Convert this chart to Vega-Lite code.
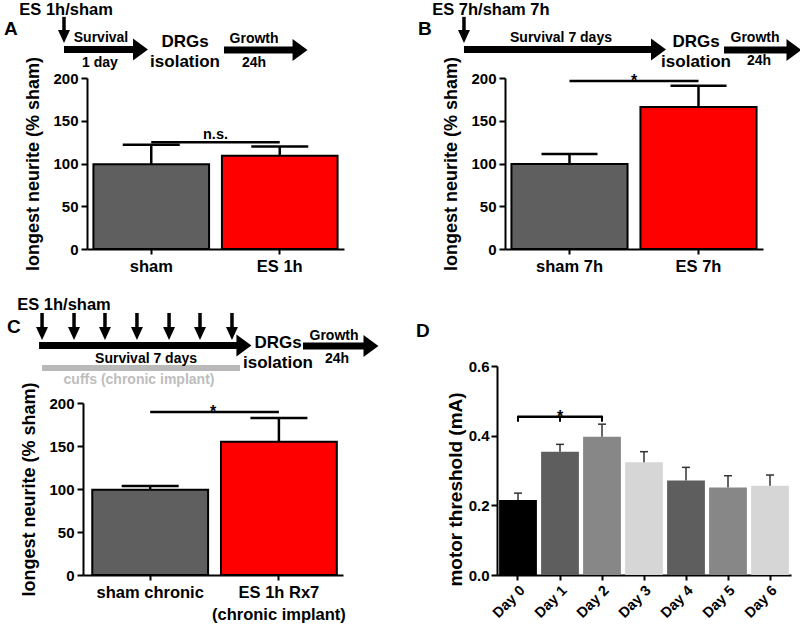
{
  "$schema": "https://vega.github.io/schema/vega-lite/v6.json",
  "padding": {"left": 3, "top": 0, "right": 0, "bottom": 0},
  "columns": 2,
  "bounds": "flush",
  "spacing": {"row": 47, "column": 153},
  "resolve": {"scale": {"color": "independent"}},
  "config": {
    "view": {"stroke": null},
    "text": {"font": "Liberation Sans", "fontWeight": "bold", "baseline": "alphabetic", "align": "center", "color": "#000"},
    "axis": {"domainColor": "#000", "tickColor": "#000", "domainWidth": 2, "tickWidth": 2, "labelFont": "Liberation Sans", "labelFontWeight": "bold", "titleFont": "Liberation Sans", "titleFontWeight": "bold", "labelColor": "#000", "titleColor": "#000", "grid": false}
  },
  "datasets": {
    "barsA": [{"group": "sham", "mean": 99, "err": 122}, {"group": "ES 1h", "mean": 109, "err": 120}],
    "sigA": [{"from": "sham", "to": "ES 1h", "y": 125, "mid": 1.0, "label": "n.s."}],
    "textA": [
      {"text": "A", "kind": "panel", "x": -0.646, "y": 250.3},
      {"text": "ES 1h/sham", "kind": "treatment", "x": -0.163, "y": 273.7},
      {"text": "Survival", "kind": "step", "x": 0.109, "y": 242.1},
      {"text": "1 day", "kind": "step", "x": 0.101, "y": 213.0},
      {"text": "DRGs", "kind": "stage", "x": 0.763, "y": 236.3},
      {"text": "isolation", "kind": "stage", "x": 0.763, "y": 213.0},
      {"text": "Growth", "kind": "step", "x": 1.300, "y": 240.9},
      {"text": "24h", "kind": "step", "x": 1.300, "y": 213.0}
    ],
    "arrowA": [{"x": -0.179, "x2": 0.416, "y": 233.3}, {"x": 1.066, "x2": 1.658, "y": 232.7}],
    "dropA": [{"x": -0.179, "y": 271.5, "y2": 248.5}],
    "barsB": [{"group": "sham 7h", "mean": 99.5, "err": 111}, {"group": "ES 7h", "mean": 166, "err": 191}],
    "sigB": [{"from": "sham 7h", "to": "ES 7h", "y": 196.5, "mid": 1.0, "label": "*"}],
    "textB": [
      {"text": "B", "kind": "panel", "x": -0.674, "y": 250.3},
      {"text": "ES 7h/sham 7h", "kind": "treatment", "x": -0.109, "y": 273.7},
      {"text": "Survival 7 days", "kind": "step", "x": 0.434, "y": 242.1},
      {"text": "DRGs", "kind": "stage", "x": 1.481, "y": 236.3},
      {"text": "isolation", "kind": "stage", "x": 1.481, "y": 213.0},
      {"text": "Growth", "kind": "step", "x": 1.938, "y": 242.1},
      {"text": "24h", "kind": "step", "x": 1.969, "y": 215.2}
    ],
    "arrowB": [{"x": -0.318, "x2": 1.190, "y": 233.3}, {"x": 1.698, "x2": 2.240, "y": 232.7}],
    "dropB": [{"x": -0.318, "y": 271.5, "y2": 248.5}],
    "barsC": [{"group": "sham chronic", "mean": 99, "err": 103.5}, {"group": "ES 1h Rx7 (chronic implant)", "mean": 155, "err": 182.5}],
    "sigC": [{"from": "sham chronic", "to": "ES 1h Rx7 (chronic implant)", "y": 189.5, "mid": 1.0, "label": "*"}],
    "textC": [
      {"text": "C", "kind": "panel", "x": -0.585, "y": 281.4},
      {"text": "ES 1h/sham", "kind": "treatment", "x": -0.146, "y": 308.1},
      {"text": "Survival 7 days", "kind": "step", "x": 0.485, "y": 246.5},
      {"text": "cuffs (chronic implant)", "kind": "implant", "x": 0.431, "y": 222.1},
      {"text": "DRGs", "kind": "stage", "x": 1.5, "y": 264.0},
      {"text": "isolation", "kind": "stage", "x": 1.5, "y": 240.7},
      {"text": "Growth", "kind": "step", "x": 1.931, "y": 273.3},
      {"text": "24h", "kind": "step", "x": 1.954, "y": 246.5}
    ],
    "arrowC": [{"x": -0.338, "x2": 1.238, "y": 266.9}, {"x": 1.692, "x2": 2.215, "y": 266.3}],
    "dropC": [
      {"x": -0.315, "y": 304.7, "y2": 280.8},
      {"x": -0.069, "y": 304.7, "y2": 280.8},
      {"x": 0.169, "y": 304.7, "y2": 280.8},
      {"x": 0.415, "y": 304.7, "y2": 280.8},
      {"x": 0.662, "y": 304.7, "y2": 280.8},
      {"x": 0.900, "y": 304.7, "y2": 280.8},
      {"x": 1.146, "y": 304.7, "y2": 280.8}
    ],
    "cuffC": [{"x": -0.315, "x2": 1.208, "y": 240.7}],
    "barsD": [
      {"day": "Day 0", "mean": 0.215, "err": 0.235},
      {"day": "Day 1", "mean": 0.354, "err": 0.375},
      {"day": "Day 2", "mean": 0.397, "err": 0.433},
      {"day": "Day 3", "mean": 0.324, "err": 0.354},
      {"day": "Day 4", "mean": 0.271, "err": 0.309},
      {"day": "Day 5", "mean": 0.251, "err": 0.285},
      {"day": "Day 6", "mean": 0.256, "err": 0.287}
    ],
    "sigD": [{"from": "Day 0", "to": "Day 2", "over": "Day 1", "y": 0.454, "label": "*"}],
    "sigTicksD": [{"day": "Day 0", "y": 0.454}, {"day": "Day 1", "y": 0.454}, {"day": "Day 2", "y": 0.454}],
    "textD": [{"text": "D", "kind": "panel", "x": -1.929, "y": 0.683}]
  },
  "concat": [
    {
      "width": 261, "height": 249,
      "resolve": {"scale": {"x": "independent"}},
      "layer": [
        {"layer": [
          {"data": {"name": "barsA"}, "mark": {"type": "bar", "stroke": "#000", "strokeWidth": 2},
           "encoding": {
             "x": {"field": "group", "type": "nominal", "sort": null, "scale": {"domain": ["sham", "ES 1h"], "range": [4, 261], "paddingInner": 0.1, "paddingOuter": 0.05}, "axis": {"title": null, "labelAngle": 0, "labelFontSize": 16.5, "tickSize": 5, "labelPadding": 4}},
             "y": {"field": "mean", "type": "quantitative", "scale": {"domain": [0, 200], "range": [249, 78], "nice": false, "zero": false}, "axis": {"values": [0, 50, 100, 150, 200], "title": "longest neurite (% sham)", "offset": -4, "tickSize": 6, "labelPadding": 3, "labelFontSize": 15, "titleFontSize": 18, "titlePadding": 10}},
             "y2": {"datum": 0},
             "color": {"field": "group", "type": "nominal", "scale": {"domain": ["sham", "ES 1h"], "range": ["#5f5f5f", "#ff0000"]}, "legend": null}}},
          {"data": {"name": "barsA"}, "mark": {"type": "rule", "strokeWidth": 2.5, "color": "#000"},
           "encoding": {"x": {"field": "group", "type": "nominal"}, "y": {"field": "mean", "type": "quantitative"}, "y2": {"field": "err"}}},
          {"data": {"name": "barsA"}, "mark": {"type": "tick", "orient": "horizontal", "size": 57, "thickness": 2.5, "color": "#000", "opacity": 1},
           "encoding": {"x": {"field": "group", "type": "nominal"}, "y": {"field": "err", "type": "quantitative"}}},
          {"data": {"name": "sigA"}, "mark": {"type": "rule", "strokeWidth": 2.5, "color": "#000"},
           "encoding": {"x": {"field": "from", "type": "nominal"}, "x2": {"field": "to"}, "y": {"field": "y", "type": "quantitative"}}}
        ]},
        {"layer": [
          {"data": {"name": "arrowA"}, "mark": {"type": "rule", "strokeWidth": 7, "color": "#000", "strokeCap": "butt"},
           "encoding": {"x": {"field": "x", "type": "quantitative", "scale": {"domain": [0, 2], "range": [4, 261], "nice": false, "zero": false}, "axis": null}, "x2": {"field": "x2"}, "y": {"field": "y", "type": "quantitative"}}},
          {"data": {"name": "arrowA"}, "mark": {"type": "point", "shape": "M-0.68,-1L0.68,0L-0.68,1Z", "size": 484, "filled": true, "color": "#000", "opacity": 1, "strokeWidth": 0},
           "encoding": {"x": {"field": "x2", "type": "quantitative", "axis": null}, "y": {"field": "y", "type": "quantitative"}}},
          {"data": {"name": "dropA"}, "mark": {"type": "rule", "strokeWidth": 3.5, "color": "#000"},
           "encoding": {"x": {"field": "x", "type": "quantitative", "axis": null}, "y": {"field": "y", "type": "quantitative"}, "y2": {"field": "y2"}}},
          {"data": {"name": "dropA"}, "mark": {"type": "point", "shape": "M-0.92,-1L0.92,-1L0,1Z", "size": 169, "filled": true, "color": "#000", "opacity": 1, "strokeWidth": 0},
           "encoding": {"x": {"field": "x", "type": "quantitative", "axis": null}, "y": {"field": "y2", "type": "quantitative"}}},
          {"data": {"name": "textA"}, "transform": [{"filter": "datum.kind === 'panel'"}], "mark": {"type": "text", "fontSize": 19, "align": "left"},
           "encoding": {"x": {"field": "x", "type": "quantitative", "axis": null}, "y": {"field": "y", "type": "quantitative"}, "text": {"field": "text"}}},
          {"data": {"name": "textA"}, "transform": [{"filter": "datum.kind === 'treatment'"}], "mark": {"type": "text", "fontSize": 16.5},
           "encoding": {"x": {"field": "x", "type": "quantitative", "axis": null}, "y": {"field": "y", "type": "quantitative"}, "text": {"field": "text"}}},
          {"data": {"name": "textA"}, "transform": [{"filter": "datum.kind === 'step'"}], "mark": {"type": "text", "fontSize": 14},
           "encoding": {"x": {"field": "x", "type": "quantitative", "axis": null}, "y": {"field": "y", "type": "quantitative"}, "text": {"field": "text"}}},
          {"data": {"name": "textA"}, "transform": [{"filter": "datum.kind === 'stage'"}], "mark": {"type": "text", "fontSize": 17},
           "encoding": {"x": {"field": "x", "type": "quantitative", "axis": null}, "y": {"field": "y", "type": "quantitative"}, "text": {"field": "text"}}},
          {"data": {"name": "sigA"}, "mark": {"type": "text", "fontSize": 14.5, "dy": -3},
           "encoding": {"x": {"field": "mid", "type": "quantitative", "axis": null}, "y": {"field": "y", "type": "quantitative"}, "text": {"field": "label"}}}
        ]}
      ]
    },
    {
      "width": 266, "height": 249,
      "resolve": {"scale": {"x": "independent"}},
      "layer": [
        {"layer": [
          {"data": {"name": "barsB"}, "mark": {"type": "bar", "stroke": "#000", "strokeWidth": 2},
           "encoding": {
             "x": {"field": "group", "type": "nominal", "sort": null, "scale": {"domain": ["sham 7h", "ES 7h"], "range": [8, 266], "paddingInner": 0.1, "paddingOuter": 0.05}, "axis": {"title": null, "labelAngle": 0, "labelFontSize": 16.5, "tickSize": 5, "labelPadding": 4}},
             "y": {"field": "mean", "type": "quantitative", "scale": {"domain": [0, 200], "range": [249, 78], "nice": false, "zero": false}, "axis": {"values": [0, 50, 100, 150, 200], "title": "longest neurite (% sham)", "offset": -8, "tickSize": 6, "labelPadding": 3, "labelFontSize": 15, "titleFontSize": 18, "titlePadding": 10}},
             "y2": {"datum": 0},
             "color": {"field": "group", "type": "nominal", "scale": {"domain": ["sham 7h", "ES 7h"], "range": ["#5f5f5f", "#ff0000"]}, "legend": null}}},
          {"data": {"name": "barsB"}, "mark": {"type": "rule", "strokeWidth": 2.5, "color": "#000"},
           "encoding": {"x": {"field": "group", "type": "nominal"}, "y": {"field": "mean", "type": "quantitative"}, "y2": {"field": "err"}}},
          {"data": {"name": "barsB"}, "mark": {"type": "tick", "orient": "horizontal", "size": 56, "thickness": 2.5, "color": "#000", "opacity": 1},
           "encoding": {"x": {"field": "group", "type": "nominal"}, "y": {"field": "err", "type": "quantitative"}}},
          {"data": {"name": "sigB"}, "mark": {"type": "rule", "strokeWidth": 2.5, "color": "#000"},
           "encoding": {"x": {"field": "from", "type": "nominal"}, "x2": {"field": "to"}, "y": {"field": "y", "type": "quantitative"}}}
        ]},
        {"layer": [
          {"data": {"name": "arrowB"}, "mark": {"type": "rule", "strokeWidth": 7, "color": "#000", "strokeCap": "butt"},
           "encoding": {"x": {"field": "x", "type": "quantitative", "scale": {"domain": [0, 2], "range": [8, 266], "nice": false, "zero": false}, "axis": null}, "x2": {"field": "x2"}, "y": {"field": "y", "type": "quantitative"}}},
          {"data": {"name": "arrowB"}, "mark": {"type": "point", "shape": "M-0.68,-1L0.68,0L-0.68,1Z", "size": 484, "filled": true, "color": "#000", "opacity": 1, "strokeWidth": 0},
           "encoding": {"x": {"field": "x2", "type": "quantitative", "axis": null}, "y": {"field": "y", "type": "quantitative"}}},
          {"data": {"name": "dropB"}, "mark": {"type": "rule", "strokeWidth": 3.5, "color": "#000"},
           "encoding": {"x": {"field": "x", "type": "quantitative", "axis": null}, "y": {"field": "y", "type": "quantitative"}, "y2": {"field": "y2"}}},
          {"data": {"name": "dropB"}, "mark": {"type": "point", "shape": "M-0.92,-1L0.92,-1L0,1Z", "size": 169, "filled": true, "color": "#000", "opacity": 1, "strokeWidth": 0},
           "encoding": {"x": {"field": "x", "type": "quantitative", "axis": null}, "y": {"field": "y2", "type": "quantitative"}}},
          {"data": {"name": "textB"}, "transform": [{"filter": "datum.kind === 'panel'"}], "mark": {"type": "text", "fontSize": 19, "align": "left"},
           "encoding": {"x": {"field": "x", "type": "quantitative", "axis": null}, "y": {"field": "y", "type": "quantitative"}, "text": {"field": "text"}}},
          {"data": {"name": "textB"}, "transform": [{"filter": "datum.kind === 'treatment'"}], "mark": {"type": "text", "fontSize": 16.5},
           "encoding": {"x": {"field": "x", "type": "quantitative", "axis": null}, "y": {"field": "y", "type": "quantitative"}, "text": {"field": "text"}}},
          {"data": {"name": "textB"}, "transform": [{"filter": "datum.kind === 'step'"}], "mark": {"type": "text", "fontSize": 14},
           "encoding": {"x": {"field": "x", "type": "quantitative", "axis": null}, "y": {"field": "y", "type": "quantitative"}, "text": {"field": "text"}}},
          {"data": {"name": "textB"}, "transform": [{"filter": "datum.kind === 'stage'"}], "mark": {"type": "text", "fontSize": 17},
           "encoding": {"x": {"field": "x", "type": "quantitative", "axis": null}, "y": {"field": "y", "type": "quantitative"}, "text": {"field": "text"}}},
          {"data": {"name": "sigB"}, "mark": {"type": "text", "fontSize": 16, "dy": 5},
           "encoding": {"x": {"field": "mid", "type": "quantitative", "axis": null}, "y": {"field": "y", "type": "quantitative"}, "text": {"field": "label"}}}
        ]}
      ]
    },
    {
      "width": 261, "height": 279,
      "resolve": {"scale": {"x": "independent"}},
      "layer": [
        {"layer": [
          {"data": {"name": "barsC"}, "mark": {"type": "bar", "stroke": "#000", "strokeWidth": 2},
           "encoding": {
             "x": {"field": "group", "type": "nominal", "sort": null, "scale": {"domain": ["sham chronic", "ES 1h Rx7 (chronic implant)"], "range": [0, 260], "paddingInner": 0.1, "paddingOuter": 0.06, "align": 0.6}, "axis": {"title": null, "labelAngle": 0, "labelFontSize": 16.5, "tickSize": 5, "labelPadding": 4, "labelLineHeight": 22, "labelLimit": 0, "labelExpr": "datum.value == 'ES 1h Rx7 (chronic implant)' ? ['ES 1h Rx7', '(chronic implant)'] : datum.label"}},
             "y": {"field": "mean", "type": "quantitative", "scale": {"domain": [0, 200], "range": [279, 107], "nice": false, "zero": false}, "axis": {"values": [0, 50, 100, 150, 200], "title": "longest neurite (% sham)", "tickSize": 6, "labelPadding": 3, "labelFontSize": 15, "titleFontSize": 18, "titlePadding": 10}},
             "y2": {"datum": 0},
             "color": {"field": "group", "type": "nominal", "scale": {"domain": ["sham chronic", "ES 1h Rx7 (chronic implant)"], "range": ["#5f5f5f", "#ff0000"]}, "legend": null}}},
          {"data": {"name": "barsC"}, "mark": {"type": "rule", "strokeWidth": 2.5, "color": "#000"},
           "encoding": {"x": {"field": "group", "type": "nominal"}, "y": {"field": "mean", "type": "quantitative"}, "y2": {"field": "err"}}},
          {"data": {"name": "barsC"}, "mark": {"type": "tick", "orient": "horizontal", "size": 57, "thickness": 2.5, "color": "#000", "opacity": 1},
           "encoding": {"x": {"field": "group", "type": "nominal"}, "y": {"field": "err", "type": "quantitative"}}},
          {"data": {"name": "sigC"}, "mark": {"type": "rule", "strokeWidth": 2.5, "color": "#000"},
           "encoding": {"x": {"field": "from", "type": "nominal"}, "x2": {"field": "to"}, "y": {"field": "y", "type": "quantitative"}}}
        ]},
        {"layer": [
          {"data": {"name": "cuffC"}, "mark": {"type": "rule", "strokeWidth": 6, "color": "#b9b9b9", "strokeCap": "butt"},
           "encoding": {"x": {"field": "x", "type": "quantitative", "scale": {"domain": [0, 2], "range": [0, 260], "nice": false, "zero": false}, "axis": null}, "x2": {"field": "x2"}, "y": {"field": "y", "type": "quantitative"}}},
          {"data": {"name": "arrowC"}, "mark": {"type": "rule", "strokeWidth": 7, "color": "#000", "strokeCap": "butt"},
           "encoding": {"x": {"field": "x", "type": "quantitative", "axis": null}, "x2": {"field": "x2"}, "y": {"field": "y", "type": "quantitative"}}},
          {"data": {"name": "arrowC"}, "mark": {"type": "point", "shape": "M-0.68,-1L0.68,0L-0.68,1Z", "size": 484, "filled": true, "color": "#000", "opacity": 1, "strokeWidth": 0},
           "encoding": {"x": {"field": "x2", "type": "quantitative", "axis": null}, "y": {"field": "y", "type": "quantitative"}}},
          {"data": {"name": "dropC"}, "mark": {"type": "rule", "strokeWidth": 3.5, "color": "#000"},
           "encoding": {"x": {"field": "x", "type": "quantitative", "axis": null}, "y": {"field": "y", "type": "quantitative"}, "y2": {"field": "y2"}}},
          {"data": {"name": "dropC"}, "mark": {"type": "point", "shape": "M-0.92,-1L0.92,-1L0,1Z", "size": 169, "filled": true, "color": "#000", "opacity": 1, "strokeWidth": 0},
           "encoding": {"x": {"field": "x", "type": "quantitative", "axis": null}, "y": {"field": "y2", "type": "quantitative"}}},
          {"data": {"name": "textC"}, "transform": [{"filter": "datum.kind === 'panel'"}], "mark": {"type": "text", "fontSize": 19, "align": "left"},
           "encoding": {"x": {"field": "x", "type": "quantitative", "axis": null}, "y": {"field": "y", "type": "quantitative"}, "text": {"field": "text"}}},
          {"data": {"name": "textC"}, "transform": [{"filter": "datum.kind === 'treatment'"}], "mark": {"type": "text", "fontSize": 16.5},
           "encoding": {"x": {"field": "x", "type": "quantitative", "axis": null}, "y": {"field": "y", "type": "quantitative"}, "text": {"field": "text"}}},
          {"data": {"name": "textC"}, "transform": [{"filter": "datum.kind === 'step'"}], "mark": {"type": "text", "fontSize": 14},
           "encoding": {"x": {"field": "x", "type": "quantitative", "axis": null}, "y": {"field": "y", "type": "quantitative"}, "text": {"field": "text"}}},
          {"data": {"name": "textC"}, "transform": [{"filter": "datum.kind === 'stage'"}], "mark": {"type": "text", "fontSize": 17},
           "encoding": {"x": {"field": "x", "type": "quantitative", "axis": null}, "y": {"field": "y", "type": "quantitative"}, "text": {"field": "text"}}},
          {"data": {"name": "textC"}, "transform": [{"filter": "datum.kind === 'implant'"}], "mark": {"type": "text", "fontSize": 14, "color": "#bdbdbd"},
           "encoding": {"x": {"field": "x", "type": "quantitative", "axis": null}, "y": {"field": "y", "type": "quantitative"}, "text": {"field": "text"}}},
          {"data": {"name": "sigC"}, "mark": {"type": "text", "fontSize": 16, "dy": 5},
           "encoding": {"x": {"field": "mid", "type": "quantitative", "axis": null}, "y": {"field": "y", "type": "quantitative"}, "text": {"field": "label"}}}
        ]}
      ]
    },
    {
      "width": 294, "height": 279,
      "resolve": {"scale": {"x": "independent"}},
      "layer": [
        {"layer": [
          {"data": {"name": "barsD"}, "mark": {"type": "bar"},
           "encoding": {
             "x": {"field": "day", "type": "nominal", "sort": null, "scale": {"domain": ["Day 0", "Day 1", "Day 2", "Day 3", "Day 4", "Day 5", "Day 6"], "range": [0, 294], "paddingInner": 0.1, "paddingOuter": 0.05}, "axis": {"title": null, "labelAngle": -45, "labelFontSize": 14.5, "tickSize": 5, "labelPadding": 3}},
             "y": {"field": "mean", "type": "quantitative", "scale": {"domain": [0, 0.6], "range": [279, 70], "nice": false, "zero": false}, "axis": {"values": [0, 0.2, 0.4, 0.6], "format": ".1f", "title": "motor threshold (mA)", "tickSize": 6, "labelPadding": 2, "labelFontSize": 15, "titleFontSize": 19, "titlePadding": 3, "titleY": 193}},
             "y2": {"datum": 0},
             "color": {"field": "day", "type": "nominal", "scale": {"domain": ["Day 0", "Day 1", "Day 2", "Day 3", "Day 4", "Day 5", "Day 6"], "range": ["#000000", "#5e5e5e", "#878787", "#d6d6d6", "#5e5e5e", "#878787", "#d6d6d6"]}, "legend": null}}},
          {"data": {"name": "barsD"}, "mark": {"type": "rule", "strokeWidth": 1.5, "color": "#333"},
           "encoding": {"x": {"field": "day", "type": "nominal"}, "y": {"field": "mean", "type": "quantitative"}, "y2": {"field": "err"}}},
          {"data": {"name": "barsD"}, "mark": {"type": "tick", "orient": "horizontal", "size": 8, "thickness": 1.5, "color": "#333", "opacity": 1},
           "encoding": {"x": {"field": "day", "type": "nominal"}, "y": {"field": "err", "type": "quantitative"}}},
          {"data": {"name": "sigD"}, "mark": {"type": "rule", "strokeWidth": 2.5, "color": "#000"},
           "encoding": {"x": {"field": "from", "type": "nominal"}, "x2": {"field": "to"}, "y": {"field": "y", "type": "quantitative"}}},
          {"data": {"name": "sigTicksD"}, "mark": {"type": "tick", "orient": "vertical", "size": 6, "thickness": 2, "color": "#000", "opacity": 1, "yOffset": 2},
           "encoding": {"x": {"field": "day", "type": "nominal"}, "y": {"field": "y", "type": "quantitative"}}},
          {"data": {"name": "sigD"}, "mark": {"type": "text", "fontSize": 16, "dy": 5},
           "encoding": {"x": {"field": "over", "type": "nominal"}, "y": {"field": "y", "type": "quantitative"}, "text": {"field": "label"}}}
        ]},
        {"layer": [
          {"data": {"name": "textD"}, "mark": {"type": "text", "fontSize": 19, "align": "left"},
           "encoding": {"x": {"field": "x", "type": "quantitative", "scale": {"domain": [0, 7], "range": [0, 294], "nice": false, "zero": false}, "axis": null}, "y": {"field": "y", "type": "quantitative"}, "text": {"field": "text"}}}
        ]}
      ]
    }
  ]
}
